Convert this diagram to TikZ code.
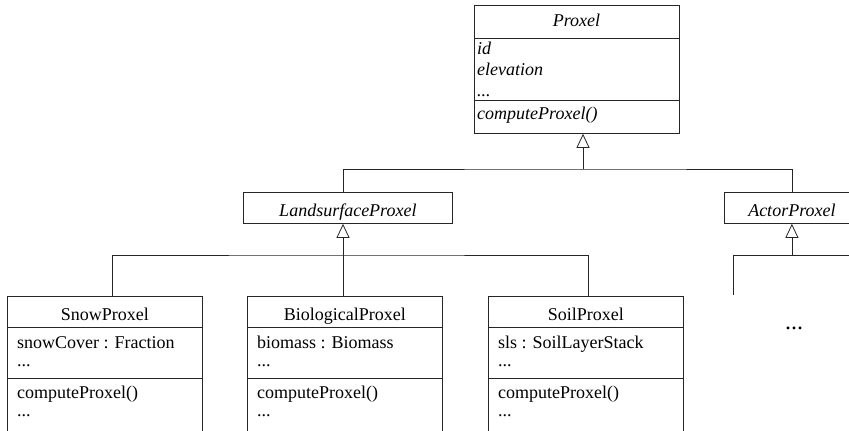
\documentclass[tikz,border=0pt]{standalone}
\usepackage{fontspec}
\setmainfont{Liberation Serif}
\usetikzlibrary{math,arrows.meta}

\tikzset{
  uml/.style={draw=black!85, line width=0.8pt},
  classbox/.style={uml, rectangle, inner sep=0pt, anchor=north west,
    font=\fontsize{18}{20}\selectfont, text height=17pt, text depth=0pt},
  member/.style={anchor=base west, inner sep=0pt, font=\fontsize{18}{20}\selectfont},
  abstract/.style={member, font=\fontsize{18}{20}\selectfont\itshape},
  inherit/.style={uml, -{Triangle[open, length=14pt, width=13pt]}},
}

\begin{document}
\begin{tikzpicture}[x=1pt, y=-1pt]
  \tikzmath{\w = 195; \rowy = 296;}

  \useasboundingbox (0, 0) rectangle (849, 431);
  \clip (0, 0) rectangle (849, 431);

  \node[classbox, minimum width=205pt, minimum height=128pt] (proxel) at (474, 5) {};
  \draw[uml] (proxel.north west) ++(0, 33) -- ++(205, 0);
  \draw[uml] (proxel.north west) ++(0, 95) -- ++(205, 0);
  \node[abstract, anchor=base] (proxel-name) at (576.5, 26) {Proxel};
  \node[abstract] (proxel-id) at (477, 54) {id};
  \node[abstract] (proxel-elev) at (477, 75) {elevation};
  \node[abstract] (proxel-dots) at (477, 96) {...};
  \node[abstract] (proxel-op) at (477, 119) {computeProxel()};

  \node[classbox, minimum width=209pt, minimum height=31pt, font=\fontsize{18}{20}\selectfont\itshape]
    (lsp) at (243, 192) {LandsurfaceProxel};
  \node[classbox, minimum width=135pt, minimum height=31pt, font=\fontsize{18}{20}\selectfont\itshape]
    (actor) at (724, 192) {ActorProxel};

  \foreach \name/\x/\title/\attr in {snow/7/SnowProxel/snowCover : Fraction,
      bio/247/BiologicalProxel/biomass : Biomass,
      soil/488/SoilProxel/sls : SoilLayerStack} {
    \node[classbox, minimum width=\w pt, minimum height=31pt] (\name) at (\x, \rowy) {\title};
    \draw[uml] (\name.south west) -- ++(0, 150) (\name.south east) -- ++(0, 150);
    \draw[uml] (\name.south west) ++(0, 51) -- ++(\w, 0);
    \node[member] (\name-attr) at (\x+10, 348) {\attr};
    \node[member] (\name-adots) at (\x+10, 366) {...};
    \node[member] (\name-op) at (\x+10, 398) {computeProxel()};
    \node[member] (\name-odots) at (\x+10, 416) {...};
  }

  \coordinate (upjoin) at (583, 169);
  \coordinate (lowjoin) at (343, 255);
  \path (actor.south) ++(0, 32) coordinate (actorjoin);
  \coordinate (actorkid) at (733, 295);
  \coordinate (actorrest) at (860, 255);

  \draw[inherit] (upjoin) -- (upjoin |- proxel.south);
  \draw[uml] (lsp.north -| lowjoin) |- (upjoin) -| (actor.north);

  \draw[inherit] (lowjoin) -- (lowjoin |- lsp.south);
  \draw[uml] ([xshift=7pt]snow.north) |- (lowjoin) -| ([xshift=2.5pt]soil.north);
  \draw[uml] (lowjoin) -- (bio.north -| lowjoin);

  \draw[inherit] (actorjoin) -- (actor.south);
  \draw[uml] (actorkid) |- (actorrest);
  \node[anchor=base, inner sep=0pt, font=\fontsize{24}{24}\selectfont] (more) at (794, 329) {...};
\end{tikzpicture}
\end{document}
